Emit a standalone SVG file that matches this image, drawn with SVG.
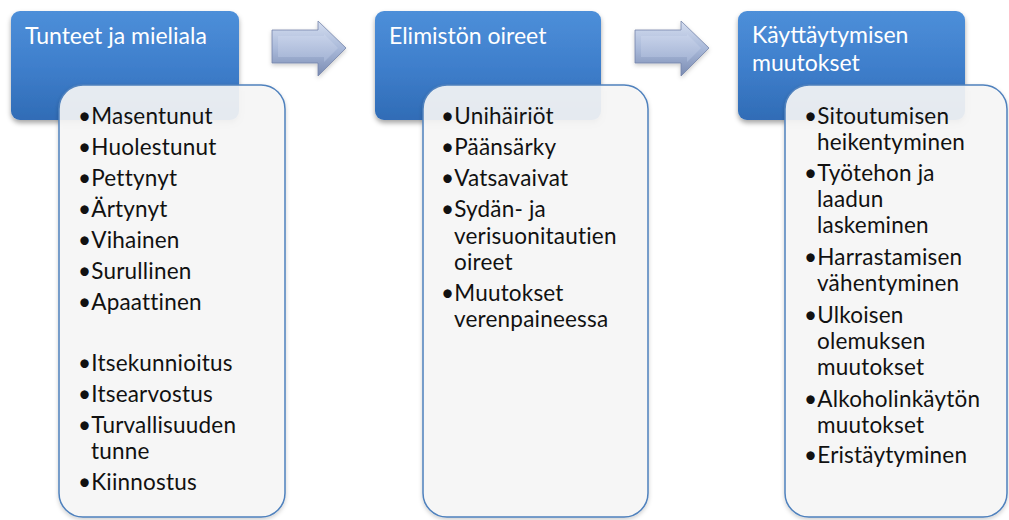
<svg xmlns="http://www.w3.org/2000/svg" width="1009" height="520" viewBox="0 0 1009 520">
  <defs>
    <linearGradient id="hdrFill" x1="0" y1="0" x2="0" y2="1">
      <stop offset="0" stop-color="#4d8fd9"/>
      <stop offset="0.5" stop-color="#3f7fcc"/>
      <stop offset="1" stop-color="#306cb6"/>
    </linearGradient>
    <linearGradient id="arrowFill" x1="0" y1="0" x2="0" y2="1">
      <stop offset="0" stop-color="#d5def0"/>
      <stop offset="0.5" stop-color="#a9b9d9"/>
      <stop offset="1" stop-color="#7a8bb2"/>
    </linearGradient>
    <linearGradient id="arrowFace" x1="0" y1="0" x2="0" y2="1">
      <stop offset="0" stop-color="#c8d3ea"/>
      <stop offset="1" stop-color="#a3b3d4"/>
    </linearGradient>
    <filter id="shadow" x="-10%" y="-10%" width="130%" height="130%">
      <feDropShadow dx="0" dy="3" stdDeviation="2.5" flood-color="#000" flood-opacity="0.35"/>
    </filter>
    <filter id="softShadow" x="-10%" y="-10%" width="130%" height="130%">
      <feDropShadow dx="0" dy="2" stdDeviation="2" flood-color="#000" flood-opacity="0.2"/>
    </filter>
  </defs>
  <style>
    .hdr { fill: url(#hdrFill); filter: url(#shadow); }
    .card { fill: #f7f7f7; fill-opacity: 0.9; stroke: #4f81bd; stroke-width: 1.5; filter: url(#softShadow); }
    .title { font-family: Lato, "Open Sans", sans-serif; font-size: 23px; fill: #ffffff; }
    .item { font-family: Lato, "Open Sans", sans-serif; font-size: 22.5px; letter-spacing: 0.2px; fill: #111111; }
    .arrow { fill: url(#arrowFill); stroke: #7484aa; stroke-width: 0.8; filter: url(#softShadow); }
    .bevel { fill: url(#arrowFace); }
  </style>

  <rect width="1009" height="520" fill="#ffffff"/>

  <!-- arrows between stages -->
  <g id="connectors">
    <g id="arrow-1">
      <path class="arrow" d="M272,30 H318 V21 L346,48 L318,76 V63 H272 Z"/>
      <path class="bevel" d="M278,36 H324 V34 L338,48 L324,62 V57 H278 Z"/>
    </g>
    <g id="arrow-2">
      <path class="arrow" d="M635,30 H681 V21 L709,48 L681,76 V63 H635 Z"/>
      <path class="bevel" d="M641,36 H687 V34 L701,48 L687,62 V57 H641 Z"/>
    </g>
  </g>

  <!-- stage 1: emotions and mood -->
  <g id="node-tunteet">
    <rect class="hdr" x="11" y="11" width="228" height="109" rx="9"/>
    <text class="title" x="25" y="44">Tunteet ja mieliala</text>
    <rect class="card" x="59" y="85" width="226" height="432" rx="24"/>
    <g class="item">
      <text x="78" y="124">•Masentunut</text>
      <text x="78" y="155">•Huolestunut</text>
      <text x="78" y="186">•Pettynyt</text>
      <text x="78" y="217">•Ärtynyt</text>
      <text x="78" y="248">•Vihainen</text>
      <text x="78" y="279">•Surullinen</text>
      <text x="78" y="310">•Apaattinen</text>
      <text x="78" y="371">•Itsekunnioitus</text>
      <text x="78" y="402">•Itsearvostus</text>
      <text x="78" y="433">•Turvallisuuden</text>
      <text x="91" y="459">tunne</text>
      <text x="78" y="490">•Kiinnostus</text>
    </g>
  </g>

  <!-- stage 2: physical symptoms -->
  <g id="node-elimisto">
    <rect class="hdr" x="375" y="11" width="226" height="109" rx="9"/>
    <text class="title" x="389" y="44">Elimistön oireet</text>
    <rect class="card" x="423" y="85" width="225" height="432" rx="24"/>
    <g class="item">
      <text x="441" y="124">•Unihäiriöt</text>
      <text x="441" y="155">•Päänsärky</text>
      <text x="441" y="186">•Vatsavaivat</text>
      <text x="441" y="217">•Sydän- ja</text>
      <text x="454" y="244">verisuonitautien</text>
      <text x="454" y="270">oireet</text>
      <text x="441" y="301">•Muutokset</text>
      <text x="454" y="327">verenpaineessa</text>
    </g>
  </g>

  <!-- stage 3: behavioural changes -->
  <g id="node-kayttaytyminen">
    <rect class="hdr" x="738" y="11" width="227" height="109" rx="9"/>
    <text class="title" x="752" y="43">Käyttäytymisen</text>
    <text class="title" x="752" y="71">muutokset</text>
    <rect class="card" x="785" y="85" width="222" height="432" rx="24"/>
    <g class="item">
      <text x="804" y="124">•Sitoutumisen</text>
      <text x="817" y="150">heikentyminen</text>
      <text x="804" y="181">•Työtehon ja</text>
      <text x="817" y="207">laadun</text>
      <text x="817" y="233">laskeminen</text>
      <text x="804" y="265">•Harrastamisen</text>
      <text x="817" y="291">vähentyminen</text>
      <text x="804" y="323">•Ulkoisen</text>
      <text x="817" y="349">olemuksen</text>
      <text x="817" y="375">muutokset</text>
      <text x="804" y="407">•Alkoholinkäytön</text>
      <text x="817" y="433">muutokset</text>
      <text x="804" y="463">•Eristäytyminen</text>
    </g>
  </g>
</svg>
